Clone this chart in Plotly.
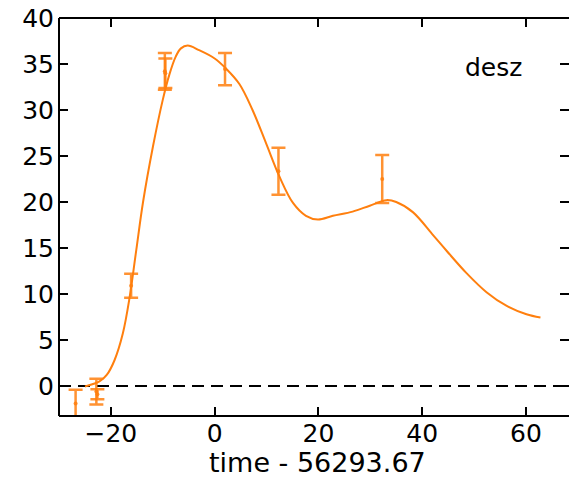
import plotly.graph_objects as go

# observed photometry (days relative to reference epoch)
obs_t = [-26.8, -22.8, -22.6, -16.1, -9.6, -9.5, 2.0, 12.3, 32.3]
obs_flux = [-1.9, -0.6, -0.9, 10.9, 34.2, 34.0, 34.45, 23.35, 22.5]
obs_err = [1.5, 1.4, 0.55, 1.3, 2.0, 1.6, 1.75, 2.55, 2.6]

# fitted light-curve model
model_t = [-25.0, -22.2, -20.8, -19.3, -17.7, -16.4, -15.1, -13.8, -11.9, -10.0,
           -8.7, -7.5, -6.5, -5.2, -3.0, 0.0, 2.2, 4.8, 7.3, 9.9, 12.5, 15.1,
           17.6, 19.9, 22.8, 26.6, 29.9, 33.1, 35.0, 38.2, 42.1, 44.7, 48.5,
           52.4, 56.3, 60.1, 62.8]
model_flux = [-0.05, 0.5, 1.2, 2.8, 5.7, 9.6, 14.8, 20.0, 26.0, 31.1,
              33.9, 35.8, 36.7, 37.0, 36.5, 35.6, 34.5, 32.8, 30.0, 26.4, 22.75, 19.9,
              18.5, 18.1, 18.5, 18.95, 19.6, 20.2, 20.0, 18.9, 16.4, 14.7, 12.3,
              10.2, 8.7, 7.8, 7.45]

x_ticks = [-20, 0, 20, 40, 60]
y_ticks = [0, 5, 10, 15, 20, 25, 30, 35, 40]
band_label = "desz"
x_title = "time - 56293.67"

ORANGE = "#ff7f0e"
FONT = "DejaVu Sans"

fig = go.Figure()

fig.add_trace(go.Scatter(
    x=model_t, y=model_flux, mode="lines",
    line=dict(color=ORANGE, width=2, shape="spline", smoothing=1.0),
    hoverinfo="skip", showlegend=False,
))

fig.add_trace(go.Scatter(
    x=obs_t, y=obs_flux, mode="markers",
    marker=dict(color="rgba(255,127,14,0.85)", size=4),
    error_y=dict(type="data", array=obs_err, visible=True,
                 color="rgba(255,127,14,0.85)", thickness=2.5, width=7),
    showlegend=False,
))

# zero reference line
fig.add_shape(type="line", xref="paper", yref="y", x0=0, x1=1, y0=0, y1=0,
              line=dict(color="black", width=2, dash="12px,7px"), layer="below")

# frame: left, bottom and top spines
for x0, y0, x1, y1 in [(0, 0, 0, 1), (0, 0, 1, 0), (0, 1, 1, 1)]:
    fig.add_shape(type="line", xref="paper", yref="paper",
                  x0=x0, y0=y0, x1=x1, y1=y1,
                  line=dict(color="black", width=2), layer="above")

fig.add_annotation(x=53.66, y=34.6, xref="x", yref="y", text=band_label,
                   showarrow=False, font=dict(family=FONT, size=25, color="black"),
                   xanchor="center", yanchor="middle")

fig.add_annotation(x=0.506, y=-0.118, xref="paper", yref="paper", text=x_title,
                   showarrow=False, font=dict(family=FONT, size=27, color="black"),
                   xanchor="center", yanchor="middle")

axis_common = dict(
    showgrid=False, zeroline=False, showline=False,
    ticks="inside", ticklen=9, tickwidth=1.5, tickcolor="black",
    mirror="ticks",
    tickfont=dict(family=FONT, size=25, color="black"),
)

fig.update_xaxes(range=[-30.0, 68.3], tickvals=x_ticks,
                 ticktext=[str(v).replace("-", "\u2212") for v in x_ticks],
                 **axis_common)
fig.update_yaxes(range=[-3.26, 40.0], tickvals=y_ticks, ticklabelstandoff=4, **axis_common)

fig.update_layout(
    width=569, height=480,
    margin=dict(l=59, r=0, t=18, b=64),
    plot_bgcolor="white", paper_bgcolor="white",
    font=dict(family=FONT),
)

fig.write_html("out.html")
